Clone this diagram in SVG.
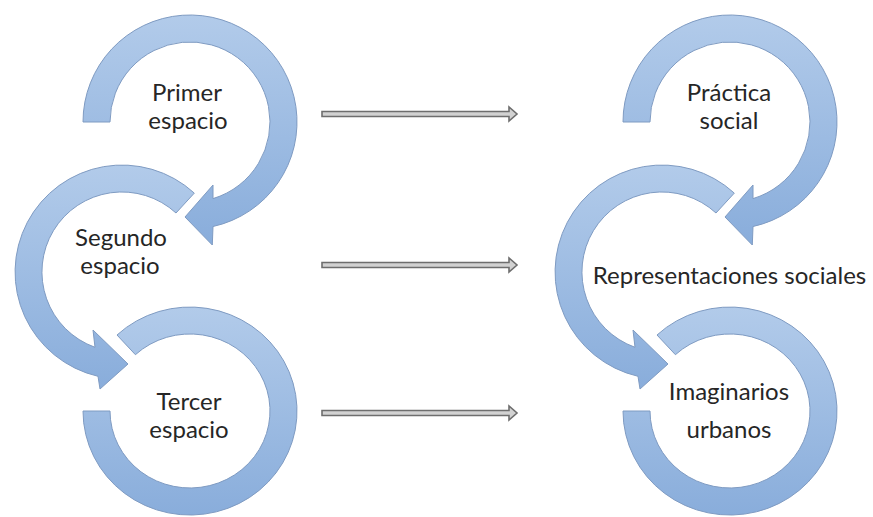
<svg xmlns="http://www.w3.org/2000/svg" xmlns:xlink="http://www.w3.org/1999/xlink" width="873" height="517" viewBox="0 0 873 517">
  <style>
    .ring { fill: url(#ringGrad); stroke: #7f9bc2; stroke-width: 1; }
    .lbl { font-family: Lato, "Liberation Sans", sans-serif; font-size: 24px; fill: #262626; text-anchor: middle; }
    .conn { fill: #d2d2d2; stroke: #6e6e6e; stroke-width: 1.6; }
  </style>
  <defs>
    <linearGradient id="ringGrad" x1="0" y1="0" x2="0" y2="1">
      <stop offset="0" stop-color="#b2cbea"/>
      <stop offset="1" stop-color="#89addb"/>
    </linearGradient>
    <path id="ringA" d="M83,122 A107,107 0 1 1 213,226.5 L212.3,245 L185,217 L213,185 L213,198.6 A80,80 0 1 0 110,122 Z"/>
    <path id="ringB" d="M194.3,193.1 A107,107 0 1 0 98,376.3 L100,389 L128,364 L93,330 L95,347.3 A80,80 0 1 1 176,213 Z"/>
    <path id="ringC" d="M117,335 A107,104 0 1 1 83,411 L110,411 A80,77 0 1 0 135.4,354.7 Z"/>
  </defs>

  <g id="tercer-espacio">
    <use xlink:href="#ringC" class="ring"/>
    <text class="lbl" x="189" y="410">Tercer</text>
    <text class="lbl" x="189" y="438">espacio</text>
  </g>
  <g id="segundo-espacio">
    <use xlink:href="#ringB" class="ring"/>
    <text class="lbl" x="121" y="246">Segundo</text>
    <text class="lbl" x="120" y="274">espacio</text>
  </g>
  <g id="primer-espacio">
    <use xlink:href="#ringA" class="ring"/>
    <text class="lbl" x="187" y="101">Primer</text>
    <text class="lbl" x="188" y="129">espacio</text>
  </g>

  <g id="imaginarios-urbanos">
    <use xlink:href="#ringC" class="ring" transform="translate(540,0)"/>
    <text class="lbl" x="729" y="400">Imaginarios</text>
    <text class="lbl" x="729" y="438">urbanos</text>
  </g>
  <g id="representaciones-sociales">
    <use xlink:href="#ringB" class="ring" transform="translate(540,0)"/>
    <text class="lbl" x="729.5" y="284">Representaciones sociales</text>
  </g>
  <g id="practica-social">
    <use xlink:href="#ringA" class="ring" transform="translate(540,0)"/>
    <text class="lbl" x="729" y="101">Práctica</text>
    <text class="lbl" x="729" y="129">social</text>
  </g>

  <g id="connectors">
    <path class="conn" d="M322,111.5 H509 V107 L517,114 L509,121 V116.5 H322 Z"/>
    <path class="conn" d="M322,262.5 H509 V258 L517,265 L509,272 V267.5 H322 Z"/>
    <path class="conn" d="M322,410.5 H509 V406 L517,413 L509,420 V415.5 H322 Z"/>
  </g>
</svg>
